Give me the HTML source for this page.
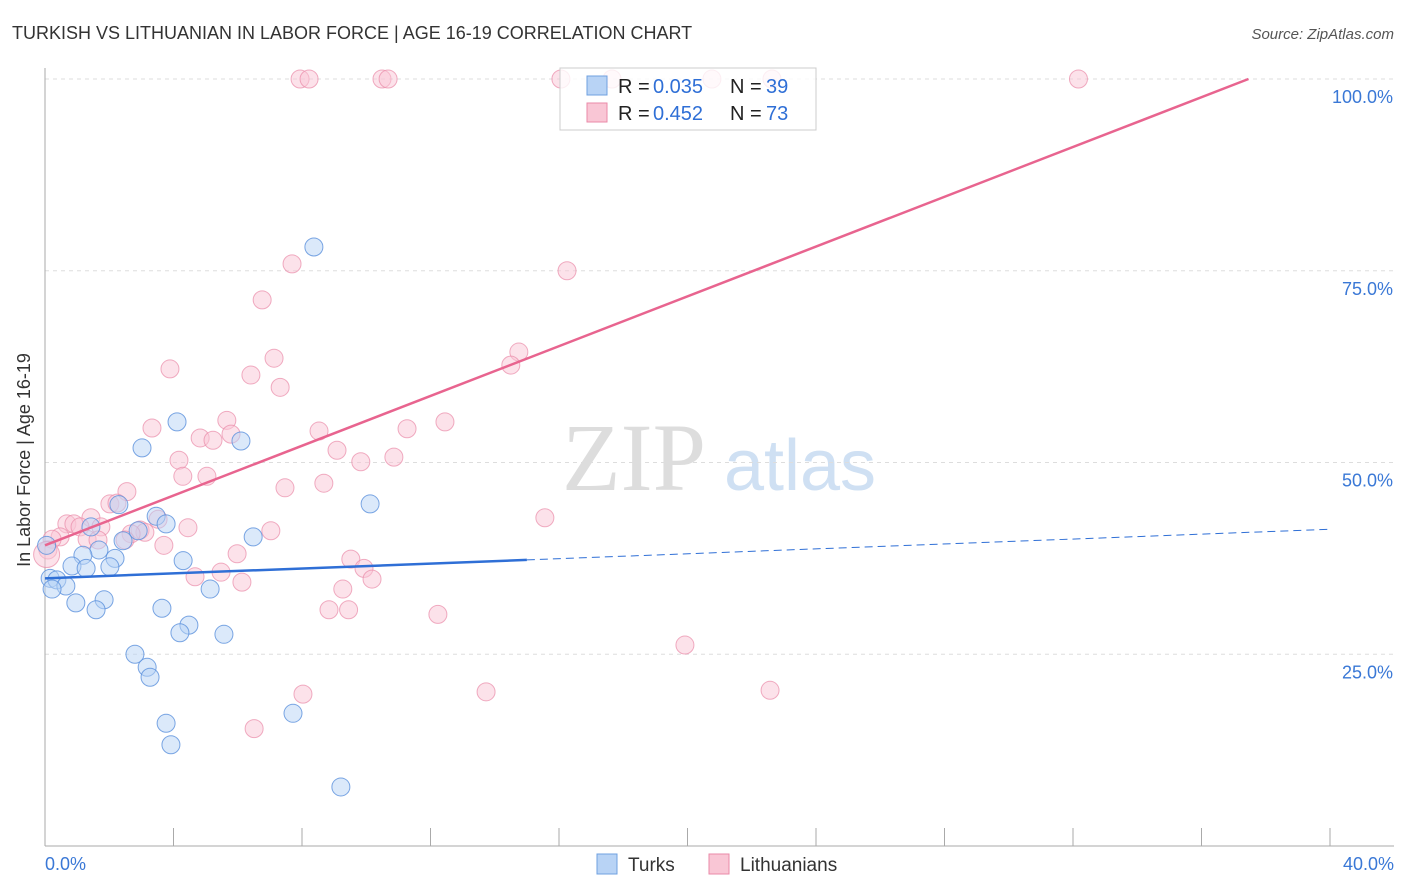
<!DOCTYPE html>
<html><head><meta charset="utf-8"><style>
body{margin:0;background:#fff;font-family:"Liberation Sans",sans-serif;}
svg{display:block}
</style></head><body>
<svg id="c" width="1406" height="892" xmlns="http://www.w3.org/2000/svg">
<text x="12" y="39" font-size="18" fill="#333">TURKISH VS LITHUANIAN IN LABOR FORCE | AGE 16-19 CORRELATION CHART</text>
<text x="1394" y="39" font-size="15" fill="#555" font-style="italic" text-anchor="end">Source: ZipAtlas.com</text>
<text x="634" y="490" font-size="96" fill="#ddd" font-family="Liberation Serif" text-anchor="middle">ZIP</text>
<text x="800" y="490" font-size="72" fill="#cfe0f3" text-anchor="middle">atlas</text>
<g id="grid"></g><g id="axes"></g><g id="pts"></g><g id="lines"></g>
<g>
<rect x="560" y="68" width="256" height="62" fill="#fff" fill-opacity="0.8" stroke="#ccc"/>
<rect x="587" y="76" width="20" height="19" fill="#b8d3f5" stroke="#6fa0e0"/>
<text x="618" y="93" font-size="20" fill="#222">R =</text>
<text x="653" y="93" font-size="20" fill="#2f6fd6">0.035</text>
<text x="730" y="93" font-size="20" fill="#222">N =</text>
<text x="766" y="93" font-size="20" fill="#2f6fd6">39</text>
<rect x="587" y="103" width="20" height="19" fill="#f9c6d5" stroke="#ea8aa8"/>
<text x="618" y="120" font-size="20" fill="#222">R =</text>
<text x="653" y="120" font-size="20" fill="#2f6fd6">0.452</text>
<text x="730" y="120" font-size="20" fill="#222">N =</text>
<text x="766" y="120" font-size="20" fill="#2f6fd6">73</text>
</g>
<g>
<rect x="597" y="854" width="20" height="20" fill="#b8d3f5" stroke="#6fa0e0"/>
<text x="628" y="871" font-size="19" fill="#333">Turks</text>
<rect x="709" y="854" width="20" height="20" fill="#f9c6d5" stroke="#ea8aa8"/>
<text x="740" y="871" font-size="19" fill="#333">Lithuanians</text>
</g>
<text x="30" y="460" font-size="18" fill="#333" text-anchor="middle" transform="rotate(-90 30 460)">In Labor Force | Age 16-19</text>
</svg>
<script>
const turksX=[8.37,4.11,3.02,6.10,10.12,2.30,3.46,3.77,1.43,2.90,6.48,2.43,1.68,1.18,2.18,4.30,0.84,1.28,2.02,0.16,0.37,0.65,0.22,5.14,1.84,0.96,1.59,3.64,4.48,4.20,5.57,2.80,3.18,3.27,7.72,3.77,3.92,9.21,0.05];
const turksY=[78.1,55.3,51.9,52.8,44.6,44.5,43.0,42.0,41.6,41.1,40.3,39.8,38.6,37.9,37.5,37.2,36.5,36.2,36.4,34.9,34.7,33.9,33.5,33.5,32.1,31.7,30.8,31.0,28.8,27.8,27.6,25.0,23.3,22.0,17.3,16.0,13.2,7.7,39.2];
const lithX=[7.94,8.22,10.49,10.68,16.06,17.65,20.76,22.63,32.17,7.69,16.25,6.76,7.13,14.75,14.50,3.89,6.41,7.32,5.66,12.45,3.33,8.53,11.27,5.79,4.83,5.23,9.09,10.86,4.17,9.83,4.29,5.04,7.47,8.68,2.55,2.02,2.24,15.56,3.52,1.43,0.68,0.90,4.45,7.03,1.74,1.09,2.96,3.11,2.68,0.47,0.22,1.31,2.49,1.65,3.70,0.09,5.98,9.52,9.93,5.48,4.67,10.18,6.13,9.27,8.84,9.45,12.23,19.92,8.03,13.73,22.57,6.51,0.05];
const lithY=[100,100,100,100,100,100,100,100,100,75.9,75.0,71.2,63.6,64.4,62.7,62.2,61.4,59.8,55.5,55.3,54.5,54.1,54.4,53.7,53.2,52.9,51.6,50.7,50.3,50.1,48.2,48.2,46.7,47.3,46.2,44.6,44.7,42.8,42.6,42.8,42.0,42.0,41.5,41.1,41.6,41.6,41.2,40.9,40.7,40.3,40.0,40.0,39.9,39.9,39.2,38.6,38.1,37.4,36.2,35.7,35.1,34.8,34.4,33.5,30.8,30.8,30.2,26.2,19.8,20.1,20.3,15.3,38.0];
const turksLine=[34.9,0.16];
const lithLine=[39.2,1.623];
const xTickLabels=["0.0%","40.0%"];
const yTicks=[25,50,75,100];
const yTickLabels=["25.0%","50.0%","75.0%","100.0%"];
const NS="http://www.w3.org/2000/svg";
const X=v=>45+v/40*1285, Y=v=>846-v*7.67;
function mk(t,a,p){const e=document.createElementNS(NS,t);for(const k in a)e.setAttribute(k,a[k]);p.appendChild(e);return e;}
const grid=document.getElementById('grid'),axes=document.getElementById('axes'),pts=document.getElementById('pts'),lines=document.getElementById('lines');
yTicks.forEach((t,i)=>{
 const l=mk('line',{x1:45,x2:1394,y1:Y(t),y2:Y(t),stroke:'#ddd','stroke-dasharray':'4,4'},grid);
 
 
 const tx=mk('text',{x:1393,y:Y(t)+24,'font-size':18,fill:'#3a78d6','text-anchor':'end'},axes);
 tx.textContent=yTickLabels[i];
 
 
});
const ya=mk('line',{x1:45,x2:45,y1:68,y2:846,stroke:'#aaa'},axes);


const xa=mk('line',{x1:45,x2:1394,y1:846,y2:846,stroke:'#aaa'},axes);


for(let i=0;i<=10;i++){const t=mk('line',{x1:X(i*4),x2:X(i*4),y1:828,y2:846,stroke:'#aaa'},axes);
 
 }
[[0,'start',45],[1,'end',1394]].forEach(([i,a,x])=>{const t=mk('text',{x:x,y:870,'font-size':18,fill:'#3a78d6','text-anchor':a},axes);t.textContent=xTickLabels[i];
 
 });
lithX.forEach((v,i)=>{const c=mk('circle',{cx:X(v),cy:Y(lithY[i]),r:i==lithX.length-1?13:9,fill:'#f9c6d5','fill-opacity':0.5,stroke:'#ea8aa8','stroke-opacity':0.7},pts);
 
 });
turksX.forEach((v,i)=>{const c=mk('circle',{cx:X(v),cy:Y(turksY[i]),r:9,fill:'#b8d3f5','fill-opacity':0.5,stroke:'#5a90dc','stroke-opacity':0.8},pts);
 
 });
const tl=mk('line',{x1:X(0),y1:Y(turksLine[0]),x2:X(15),y2:Y(turksLine[0]+15*turksLine[1]),stroke:'#2f6fd6','stroke-width':2.5},lines);


const td=mk('line',{x1:X(15),y1:Y(turksLine[0]+15*turksLine[1]),x2:X(40),y2:Y(turksLine[0]+40*turksLine[1]),stroke:'#2f6fd6','stroke-width':1,'stroke-dasharray':'8,5'},lines);


const xe=(100-lithLine[0])/lithLine[1];
const ll=mk('line',{x1:X(0),y1:Y(lithLine[0]),x2:X(xe),y2:Y(100),stroke:'#e8648f','stroke-width':2.5},lines);


</script>
</body></html>
